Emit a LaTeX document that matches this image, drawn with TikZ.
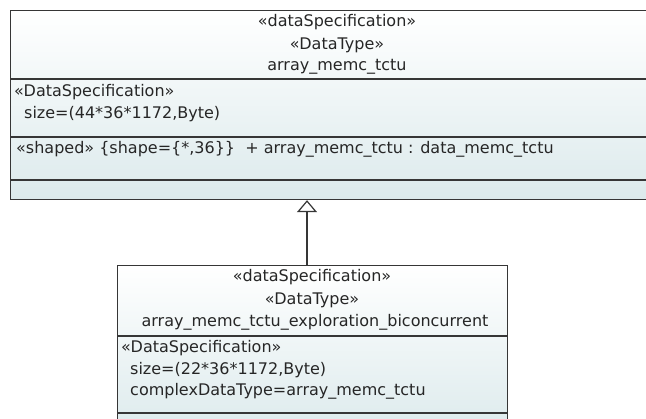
\documentclass[tikz,border=0pt]{standalone}
\usepackage{fontspec}
\setmainfont{DejaVu Sans}
\usetikzlibrary{arrows.meta}
\definecolor{boxbot}{HTML}{DCEAEC}
\definecolor{linec}{HTML}{363636}
\tikzset{
  classbox/.style={draw=linec, line width=1.2pt, top color=white, bottom color=boxbot, rectangle, inner sep=0pt, anchor=north west},
  sep/.style={draw=linec, line width=1.2pt},
  ctxt/.style={inner sep=0pt, anchor=center, font=\fontsize{16}{19}\selectfont, text=black!85},
  ltxt/.style={inner sep=0pt, anchor=west, font=\fontsize{16}{19}\selectfont, text=black!85},
  gen/.style={draw=linec, line width=1.2pt, -{Triangle[open, width=20pt, length=12pt]}}
}
\begin{document}
\begin{tikzpicture}[x=1pt,y=-1pt]
\useasboundingbox (0,0) rectangle (646,419);
\fill[white] (0,0) rectangle (646,419);
\clip (0,0) rectangle (646,419);
% parent class
\node[classbox, minimum width=654pt, minimum height=189pt] (parent) at (10,10) {};
\draw[sep] (10,79) -- (664,79);
\draw[sep] (10,137) -- (664,137);
\draw[sep] (10,180) -- (664,180);
\node[ctxt] (p1) at (337,22) {«dataSpecification»};
\node[ctxt] (p2) at (337,45) {«DataType»};
\node[ctxt] (p3) at (337,67) {array\_memc\_tctu};
\node[ltxt] (p4) at (14,92) {«DataSpecification»};
\node[ltxt] (p5) at (24,114) {size=(44*36*1172,Byte)};
\node[ltxt] (p6) at (16,149) {«shaped» \{shape=\{*,36\}\}~~+ array\_memc\_tctu : data\_memc\_tctu};
% child class
\node[classbox, minimum width=390pt, minimum height=170pt] (child) at (117,265) {};
\draw[sep] (117,336) -- (507,336);
\draw[sep] (117,413) -- (507,413);
\node[ctxt] (c1) at (312,277) {«dataSpecification»};
\node[ctxt] (c2) at (312,300) {«DataType»};
\node[ctxt] (c3) at (315,322) {array\_memc\_tctu\_exploration\_biconcurrent};
\node[ltxt] (c4) at (121,348) {«DataSpecification»};
\node[ltxt] (c5) at (130,370) {size=(22*36*1172,Byte)};
\node[ltxt] (c6) at (130,391) {complexDataType=array\_memc\_tctu};
% generalization
\coordinate (gs) at (child.north -| 307,0);
\coordinate (ge) at (parent.south -| 307,0);
\draw[gen] (gs) -- (ge);
\end{tikzpicture}
\end{document}
